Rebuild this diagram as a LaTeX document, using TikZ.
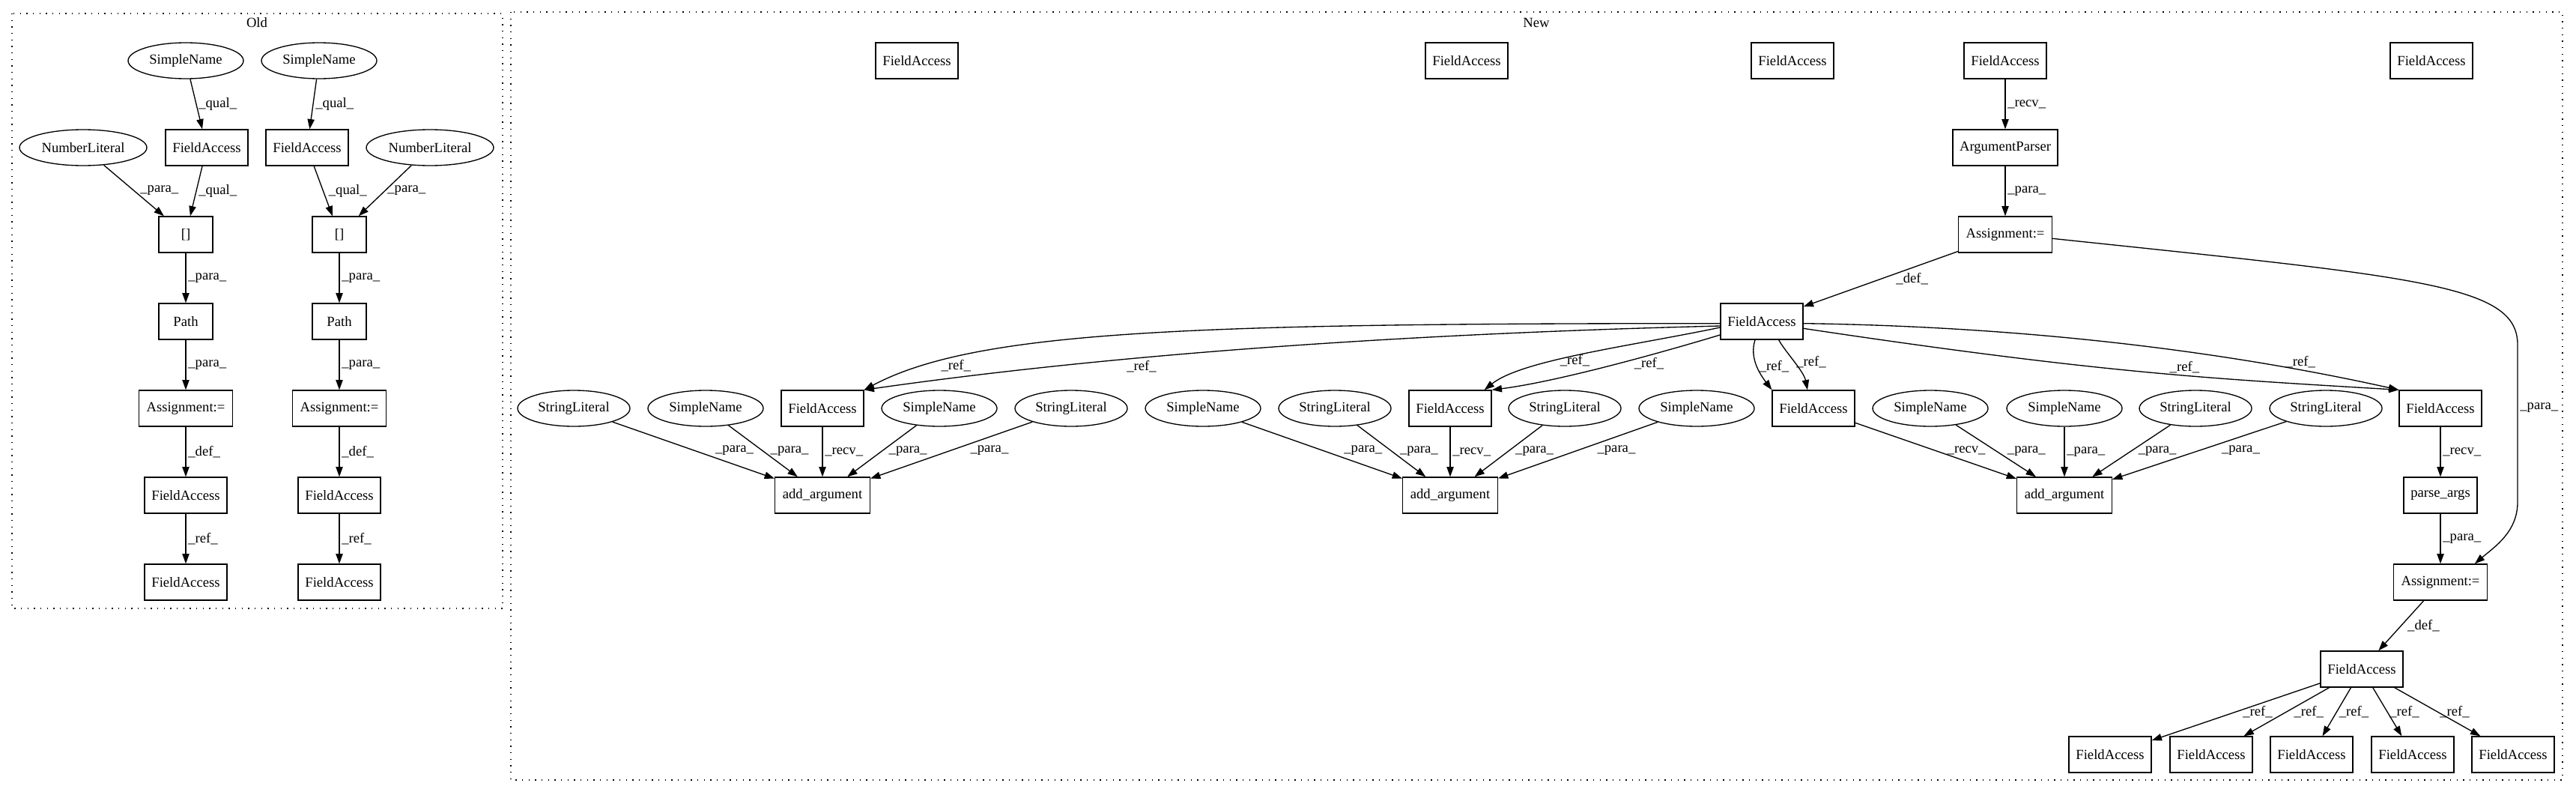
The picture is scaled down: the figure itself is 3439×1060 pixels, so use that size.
\documentclass[tikz,border=0pt]{standalone}
\usepackage{fontspec}
\setmainfont{Liberation Serif}
\usetikzlibrary{arrows.meta,shapes.geometric}

\begin{document}
\begin{tikzpicture}[x=0.75pt,y=-0.75pt,
every node/.style={font=\fontsize{14pt}{16pt}\selectfont},
box/.style={draw,rectangle,line width=1pt,minimum height=36pt,inner xsep=0pt,minimum width=#1},
box/.default=82.5pt,
oval/.style={draw,ellipse,line width=1pt,minimum height=36pt,inner sep=0pt,minimum width=#1},
oval/.default=115.5pt,
lbl/.style={inner sep=2pt},
arr/.style={line width=1pt,-{Triangle[length=10pt,width=7pt]}},
cluster/.style={line width=1pt,dash pattern=on 1pt off 5.5pt}]
\useasboundingbox (0,0) rectangle (3439,1060);
\draw[cluster] (16,18) rectangle (671,812);
\draw[cluster] (682,16) rectangle (3421,1041);
\node (oldname) at (343,30) {Old};
\node (newname) at (2051,30) {New};

\node[oval] (osn1) at (248,81) {SimpleName};
\node[oval] (osn2) at (426,81) {SimpleName};
\node[box] (ofa1) at (276,197) {FieldAccess};
\node[box] (ofa2) at (410,197) {FieldAccess};
\node[oval=127.5pt] (onl1) at (111,197) {NumberLiteral};
\node[oval=127.5pt] (onl2) at (574,197) {NumberLiteral};
\node[box=54pt] (oidx1) at (248,313) {[]};
\node[box=54pt] (oidx2) at (453,313) {[]};
\node[box=54pt] (opath1) at (248,429) {Path};
\node[box=54pt] (opath2) at (453,429) {Path};
\node[box=93.75pt] (oasg1) at (248,545) {Assignment:=};
\node[box=93.75pt] (oasg2) at (453,545) {Assignment:=};
\node[box] (odef1) at (248,661) {FieldAccess};
\node[box] (odef2) at (453,661) {FieldAccess};
\node[box] (oref1) at (248,777) {FieldAccess};
\node[box] (oref2) at (453,777) {FieldAccess};

\draw[arr] (osn1) -- node[lbl,right] {\_qual\_} (ofa1);
\draw[arr] (ofa1) -- node[lbl,right] {\_qual\_} (oidx1);
\draw[arr] (onl1) -- node[lbl,right,xshift=4pt] {\_para\_} (oidx1);
\draw[arr] (oidx1) -- node[lbl,right] {\_para\_} (opath1);
\draw[arr] (opath1) -- node[lbl,right] {\_para\_} (oasg1);
\draw[arr] (oasg1) -- node[lbl,right] {\_def\_} (odef1);
\draw[arr] (odef1) -- node[lbl,right] {\_ref\_} (oref1);
\draw[arr] (osn2) -- node[lbl,right] {\_qual\_} (ofa2);
\draw[arr] (ofa2) -- node[lbl,right,xshift=3pt] {\_qual\_} (oidx2);
\draw[arr] (onl2) -- node[lbl,right] {\_para\_} (oidx2);
\draw[arr] (oidx2) -- node[lbl,right] {\_para\_} (opath2);
\draw[arr] (opath2) -- node[lbl,right] {\_para\_} (oasg2);
\draw[arr] (oasg2) -- node[lbl,right] {\_def\_} (odef2);
\draw[arr] (odef2) -- node[lbl,right] {\_ref\_} (oref2);

\node[box] (nfa1) at (1224,81) {FieldAccess};
\node[box] (nfa2) at (1958,81) {FieldAccess};
\node[box] (nfa3) at (2393,81) {FieldAccess};
\node[box] (nfa4) at (2677,81) {FieldAccess};
\node[box] (nfa5) at (3246,81) {FieldAccess};
\node[box=105pt] (parser) at (2677,197) {ArgumentParser};
\node[box=93.75pt] (asgA) at (2677,313) {Assignment:=};
\node[box] (hub) at (2352,429) {FieldAccess};

\node[oval=112.5pt] (sl1) at (766,545) {StringLiteral};
\node[oval] (sn1) at (942,545) {SimpleName};
\node[box] (faA) at (1098,545) {FieldAccess};
\node[oval] (sn2) at (1254,545) {SimpleName};
\node[oval=112.5pt] (sl2) at (1430,545) {StringLiteral};
\node[oval] (sn3) at (1606,545) {SimpleName};
\node[oval=112.5pt] (sl3) at (1782,545) {StringLiteral};
\node[box] (faB) at (1936,545) {FieldAccess};
\node[oval=112.5pt] (sl4) at (2089,545) {StringLiteral};
\node[oval] (sn4) at (2265,545) {SimpleName};
\node[box] (faC) at (2421,545) {FieldAccess};
\node[oval] (sn5) at (2577,545) {SimpleName};
\node[oval] (sn6) at (2756,545) {SimpleName};
\node[oval=112.5pt] (sl5) at (2931,545) {StringLiteral};
\node[oval=112.5pt] (sl6) at (3105,545) {StringLiteral};
\node[box] (faD) at (3258,545) {FieldAccess};

\node[box=95pt] (add1) at (1098,661) {add\_argument};
\node[box=95pt] (add2) at (1936,661) {add\_argument};
\node[box=95pt] (add3) at (2756,661) {add\_argument};
\node[box=73.5pt] (parse) at (3258,661) {parse\_args};
\node[box=93.75pt] (asgB) at (3258,777) {Assignment:=};
\node[box] (hub2) at (3153,893) {FieldAccess};
\node[box] (fe1) at (2817,1007) {FieldAccess};
\node[box] (fe2) at (2952,1007) {FieldAccess};
\node[box] (fe3) at (3086,1007) {FieldAccess};
\node[box] (fe4) at (3221,1007) {FieldAccess};
\node[box] (fe5) at (3355,1007) {FieldAccess};

\draw[arr] (nfa4) -- node[lbl,right] {\_recv\_} (parser);
\draw[arr] (parser) -- node[lbl,right] {\_para\_} (asgA);
\draw[arr] (asgA) -- node[lbl,right,xshift=13pt] {\_def\_} (hub);
\draw[arr] ([yshift=-4pt]asgA.east) .. controls (3230,370) and (3361,380) .. (3361,460)
  -- node[lbl,right,pos=0.4] {\_para\_} (3361,670) .. controls (3361,710) and (3330,730) .. ([xshift=-13pt]asgB.north east);

\draw[arr] ([yshift=-2pt]hub.west) .. controls +(-700,0) and +(150,-80) .. node[lbl,pos=0.78,below] {\_ref\_} (faA.north east);
\draw[arr] ([yshift=-4.5pt]hub.west) .. controls +(-400,10) and +(350,-50) .. node[lbl,pos=0.66,below] {\_ref\_} (faA.north east);
\draw[arr] ([yshift=-6pt]hub.west) .. controls +(-120,25) and +(50,-40) .. node[lbl,pos=0.6,right] {\_ref\_} ([xshift=-7.5pt]faB.north east);
\draw[arr] ([yshift=-13.5pt]hub.west) .. controls +(-100,30) and +(80,-10) .. node[lbl,pos=0.3,below] {\_ref\_} (faB.north east);
\draw[arr] ([xshift=-6.75pt]hub.south) .. controls +(-8,25) and +(-15,-20) .. node[lbl,right] {\_ref\_} (faC.north west);
\draw[arr] ([xshift=17pt]hub.south) .. controls +(8,15) and +(-5,-25) .. node[lbl,right] {\_ref\_} ([xshift=-6pt]faC.north);
\draw[arr] ([yshift=-7pt]hub.east) .. controls +(400,60) and +(-250,-15) .. node[lbl,pos=0.58,above] {\_ref\_} (faD.north west);
\draw[arr] ([yshift=-2pt]hub.east) .. controls +(350,5) and +(-180,-40) .. node[lbl,pos=0.78,above] {\_ref\_} (faD.north west);

\draw[arr] (sl1) -- node[lbl,right,xshift=19.5pt] {\_para\_} (add1);
\draw[arr] (sn1) -- node[lbl,right,xshift=5pt] {\_para\_} (add1);
\draw[arr] (faA) -- node[lbl,right] {\_recv\_} (add1);
\draw[arr] (sn2) -- node[lbl,right,xshift=4.5pt] {\_para\_} (add1);
\draw[arr] (sl2) -- node[lbl,right,xshift=16.5pt] {\_para\_} (add1);
\draw[arr] (sn3) -- node[lbl,right,xshift=19.5pt] {\_para\_} (add2);
\draw[arr] (sl3) -- node[lbl,right,xshift=6pt] {\_para\_} (add2);
\draw[arr] (faB) -- node[lbl,right] {\_recv\_} (add2);
\draw[arr] (sl4) -- node[lbl,right,xshift=4.5pt] {\_para\_} (add2);
\draw[arr] (sn4) -- node[lbl,right,xshift=17pt] {\_para\_} (add2);
\draw[arr] (faC) -- node[lbl,right,xshift=9pt] {\_recv\_} (add3);
\draw[arr] (sn5) -- node[lbl,right,xshift=9pt] {\_para\_} (add3);
\draw[arr] (sn6) -- node[lbl,right] {\_para\_} (add3);
\draw[arr] (sl5) -- node[lbl,right,xshift=4.5pt] {\_para\_} (add3);
\draw[arr] (sl6) -- node[lbl,right,xshift=20pt] {\_para\_} (add3);
\draw[arr] (faD) -- node[lbl,right] {\_recv\_} (parse);
\draw[arr] (parse) -- node[lbl,right] {\_para\_} (asgB);
\draw[arr] (asgB) -- node[lbl,right,xshift=4pt] {\_def\_} (hub2);
\draw[arr] (hub2) -- node[lbl,right,xshift=4.5pt] {\_ref\_} (fe1);
\draw[arr] (hub2) -- node[lbl,right,xshift=5pt] {\_ref\_} (fe2);
\draw[arr] (hub2) -- node[lbl,right] {\_ref\_} (fe3);
\draw[arr] (hub2) -- node[lbl,right] {\_ref\_} (fe4);
\draw[arr] (hub2) -- node[lbl,right] {\_ref\_} (fe5);
\end{tikzpicture}
\end{document}
